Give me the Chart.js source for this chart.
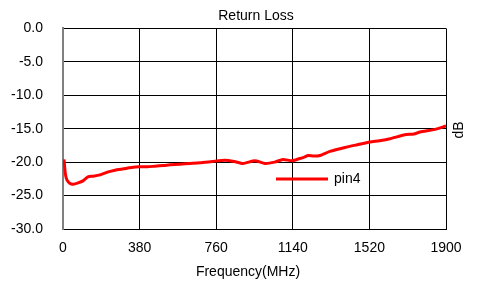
<!DOCTYPE html>
<html><head><meta charset="utf-8">
<script src="https://cdn.jsdelivr.net/npm/chart.js@4/dist/chart.umd.min.js"></script>
<style>html,body{margin:0;padding:0;background:#fff;}#wrap{width:481px;height:285px;}</style>
</head><body><div id="wrap"><canvas id="c" width="481" height="285"></canvas></div>
<script>
const chartTitle = 'Return Loss';
const xTitle = 'Frequency(MHz)';
const yTitle = 'dB';
const seriesName = 'pin4';
const xTicks = [0, 380, 760, 1140, 1520, 1900];
const yTicks = [0, -5, -10, -15, -20, -25, -30];
const freqMHz = [5, 12, 20, 35, 50, 75, 99, 124, 150, 184, 220, 258, 300, 340, 377, 420, 456, 500, 531, 580, 630, 680, 740, 804, 850, 893, 952, 1002, 1050, 1091, 1136, 1170, 1200, 1215, 1245, 1275, 1324, 1399, 1460, 1523, 1570, 1622, 1696, 1740, 1771, 1845, 1900];
const returnLossDb = [-19.6, -21.8, -22.7, -23.2, -23.3, -23.1, -22.8, -22.2, -22.1, -21.9, -21.5, -21.2, -21.0, -20.8, -20.7, -20.7, -20.6, -20.5, -20.4, -20.3, -20.2, -20.1, -19.9, -19.7, -19.9, -20.2, -19.8, -20.2, -20.0, -19.6, -19.8, -19.5, -19.2, -19.0, -19.1, -19.0, -18.4, -17.8, -17.4, -17.0, -16.8, -16.5, -15.9, -15.8, -15.5, -15.1, -14.6];

const FONT = 'Arial, "Liberation Sans", sans-serif';
const textPlugin = {
  id: 'texts',
  afterDraw(chart) {
    const ctx = chart.ctx;
    ctx.save();
    ctx.fillStyle = '#000';
    ctx.font = '14px ' + FONT;
    ctx.textAlign = 'center';
    ctx.textBaseline = 'middle';
    ctx.fillText(chartTitle, 256, 16.5);
    ctx.fillText(xTitle, 248, 272);
    ctx.save();
    ctx.translate(459, 130);
    ctx.rotate(-Math.PI / 2);
    ctx.fillText(yTitle, 0, 0);
    ctx.restore();
    const ds = chart.data.datasets[0];
    ctx.strokeStyle = ds.borderColor;
    ctx.lineWidth = 3;
    ctx.beginPath();
    ctx.moveTo(276, 179);
    ctx.lineTo(328, 179);
    ctx.stroke();
    ctx.textAlign = 'left';
    ctx.fillText(ds.label, 334, 179);
    ctx.restore();
  }
};

new Chart(document.getElementById('c'), {
  type: 'line',
  data: {
    datasets: [{
      label: seriesName,
      data: freqMHz.map((f, i) => ({x: f, y: returnLossDb[i]})),
      borderColor: '#ff0000',
      borderWidth: 3,
      pointRadius: 0,
      tension: 0.2,
      fill: false
    }]
  },
  options: {
    responsive: false,
    animation: false,
    devicePixelRatio: 1,
    layout: {padding: {top: 28, right: 35, left: 0, bottom: 0}},
    plugins: {legend: {display: false}, title: {display: false}, tooltip: {enabled: false}},
    scales: {
      x: {
        type: 'linear', min: 0, max: 1900,
        afterBuildTicks(s) { s.ticks = xTicks.map(v => ({value: v})); },
        afterFit(s) { s.height = 56; },
        grid: {color: '#000', lineWidth: 1, drawTicks: false},
        border: {color: '#000', width: 1},
        ticks: {color: '#000', font: {size: 14, family: FONT}, padding: 11, maxRotation: 0, callback: v => String(v)}
      },
      y: {
        type: 'linear', min: -30, max: 0,
        afterBuildTicks(s) { s.ticks = yTicks.map(v => ({value: v})); },
        afterFit(s) { s.width = 63; },
        grid: {color: '#000', lineWidth: 1, drawTicks: false},
        border: {color: '#808080', width: 2},
        ticks: {color: '#000', font: {size: 14, family: FONT}, padding: 20, callback: v => v.toFixed(1)}
      }
    }
  },
  plugins: [textPlugin]
});
</script></body></html>
